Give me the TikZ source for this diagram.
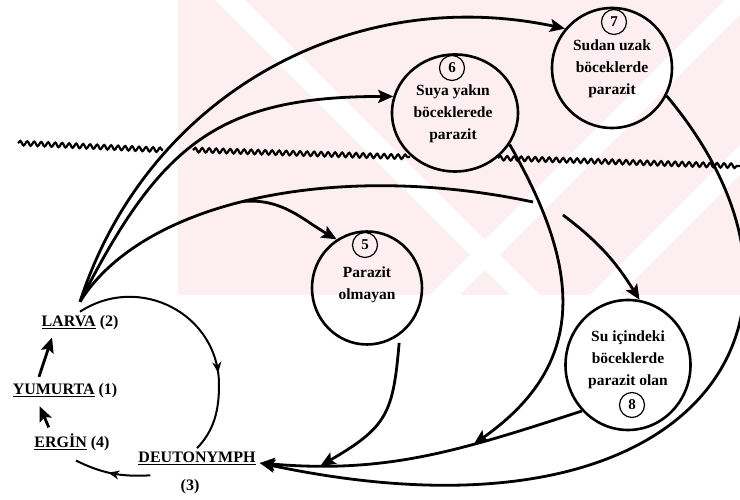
\documentclass[tikz,border=0pt]{standalone}
\usepackage{fontspec}
\setmainfont{Liberation Serif}
\usetikzlibrary{arrows.meta,shapes.geometric,decorations.pathmorphing,decorations.markings}
\definecolor{MarkPink}{RGB}{253,238,241}
\tikzset{
  >={Stealth[length=15pt,width=13pt,inset=3pt]},
  stage/.style={draw, ellipse, line width=2.6pt, inner sep=0pt},
  stagetext/.style={align=center, font=\fontsize{15.5}{22}\selectfont\bfseries},
  numc/.style={draw, circle, line width=1.2pt, minimum size=25pt, inner sep=0pt,
    font=\fontsize{15}{15}\selectfont\bfseries},
  stagelabel/.style={anchor=base, inner sep=4pt, font=\fontsize{16}{20}\selectfont\bfseries},
  arrow/.style={->, line width=2.8pt},
  link/.style={line width=2.8pt},
  lifeloop/.style={line width=2pt},
  water/.style={line width=2.2pt, decorate,
    decoration={snake, amplitude=2.2pt, segment length=7pt}},
  midarrow/.style={postaction={decorate, decoration={markings,
    mark=at position #1 with {\arrow{Stealth[length=11pt,width=9pt]}}}}}
}

\begin{document}
\begin{tikzpicture}[x=1pt, y=1pt]
  \useasboundingbox (0,0) rectangle (740,500);
  % watermark
  \fill[MarkPink] (178,500) -- (740,500) -- (740,205) -- (178,205) -- cycle;
  \fill[white] (215,500) -- (245,500) -- (540,205) -- (510,205) -- cycle;
  \fill[white] (430,205) -- (460,205) -- (740,485) -- (740,500) -- (725,500) -- cycle;
  \fill[white] (590,205) -- (620,205) -- (740,325) -- (740,355) -- cycle;

  % water surface
  \draw[water] (18,357) -- (163,350);
  \draw[water] (193,350) -- (410,343);
  \draw[water] (498,342) -- (740,334);

  % life cycle
  \node[stagelabel] (larva) at (80,173) {\underline{LARVA} (2)};
  \node[stagelabel] (yumurta) at (65,105) {\underline{YUMURTA} (1)};
  \node[stagelabel] (ergin) at (72,52) {\underline{ERGİN} (4)};
  \node[stagelabel] (deuto) at (197,37) {\underline{DEUTONYMPH}};
  \node[stagelabel] (deutonum) at (190,9) {(3)};

  % hosts
  \node[stage, minimum width=110pt, minimum height=113pt] (s5) at (367,212) {};
  \node[stage, minimum width=126pt, minimum height=117pt] (s6) at (455,387) {};
  \node[stage, minimum width=120pt, minimum height=120pt] (s7) at (612,432) {};
  \node[stage, minimum width=125pt, minimum height=130pt] (s8) at (628,135) {};
  \node[stagetext] (t5) at (367,215) {Parazit\\olmayan};
  \node[stagetext] (t6) at (453,386) {Suya yakın\\böceklerede\\parazit};
  \node[stagetext] (t7) at (612,431) {Sudan uzak\\böceklerde\\parazit};
  \node[stagetext] (t8) at (628,140) {Su içindeki\\böceklerde\\parazit olan};
  \node[numc] (n5) at (365,255) {5};
  \node[numc] (n6) at (452,432) {6};
  \node[numc] (n7) at (614,478) {7};
  \node[numc] (n8) at (632,95) {8};

  % cycle arrows
  \coordinate (turn) at (219,115);
  \draw[arrow, shorten <=3pt, shorten >=4pt] ([xshift=-22pt]ergin.north) -- ([xshift=-27pt]yumurta.south);
  \draw[arrow, shorten <=3pt, shorten >=3pt] ([xshift=-27pt]yumurta.north) -- ([xshift=-27pt]larva.south);
  \draw[lifeloop, midarrow=0.69] (larva.north)
    to[out=33, in=90, out distance=71pt, in distance=71pt] (turn)
    to[out=-90, in=46, out distance=25pt, in distance=25pt] (deuto.north);
  \draw[lifeloop, midarrow=0.55] ([xshift=16pt,yshift=-6pt]deuto.south west)
    to[out=183, in=-26] ([xshift=4pt,yshift=-5pt]ergin.south);

  % larva to hosts
  \coordinate (gapa) at (533,298);
  \coordinate (gapb) at (563,285);
  \draw[arrow] ([yshift=10pt]larva.north) to[out=72, in=168] (s7.140);
  \draw[arrow] ([yshift=10pt]larva.north) to[out=63, in=180, looseness=1.2] (s6.165);
  \draw[link] ([yshift=10pt]larva.north)
    to[out=58, in=168, out looseness=0.66, in looseness=1.1] coordinate[pos=0.47] (fork) (gapa);
  \draw[arrow] (gapb) to[out=-37, in=122] (s8.80);
  \draw[arrow] (fork) to[out=5, in=150] (s5.122);

  % hosts back to deutonymph
  \draw[arrow] (s8.-135) to[out=198, in=-5] coordinate[pos=0.33] (j6) coordinate[pos=0.83] (j5) (deuto.base east);
  \draw[arrow] (s6.-30) to[out=-60, in=35, looseness=1.2] (j6);
  \draw[arrow, shorten <=8pt] (s5.-55) to[out=-95, in=30, looseness=1.3] (j5);
  \draw[arrow] (s7.-27) to[out=-50, in=-12, out distance=290pt, in distance=450pt] (deuto.base east);
\end{tikzpicture}
\end{document}
